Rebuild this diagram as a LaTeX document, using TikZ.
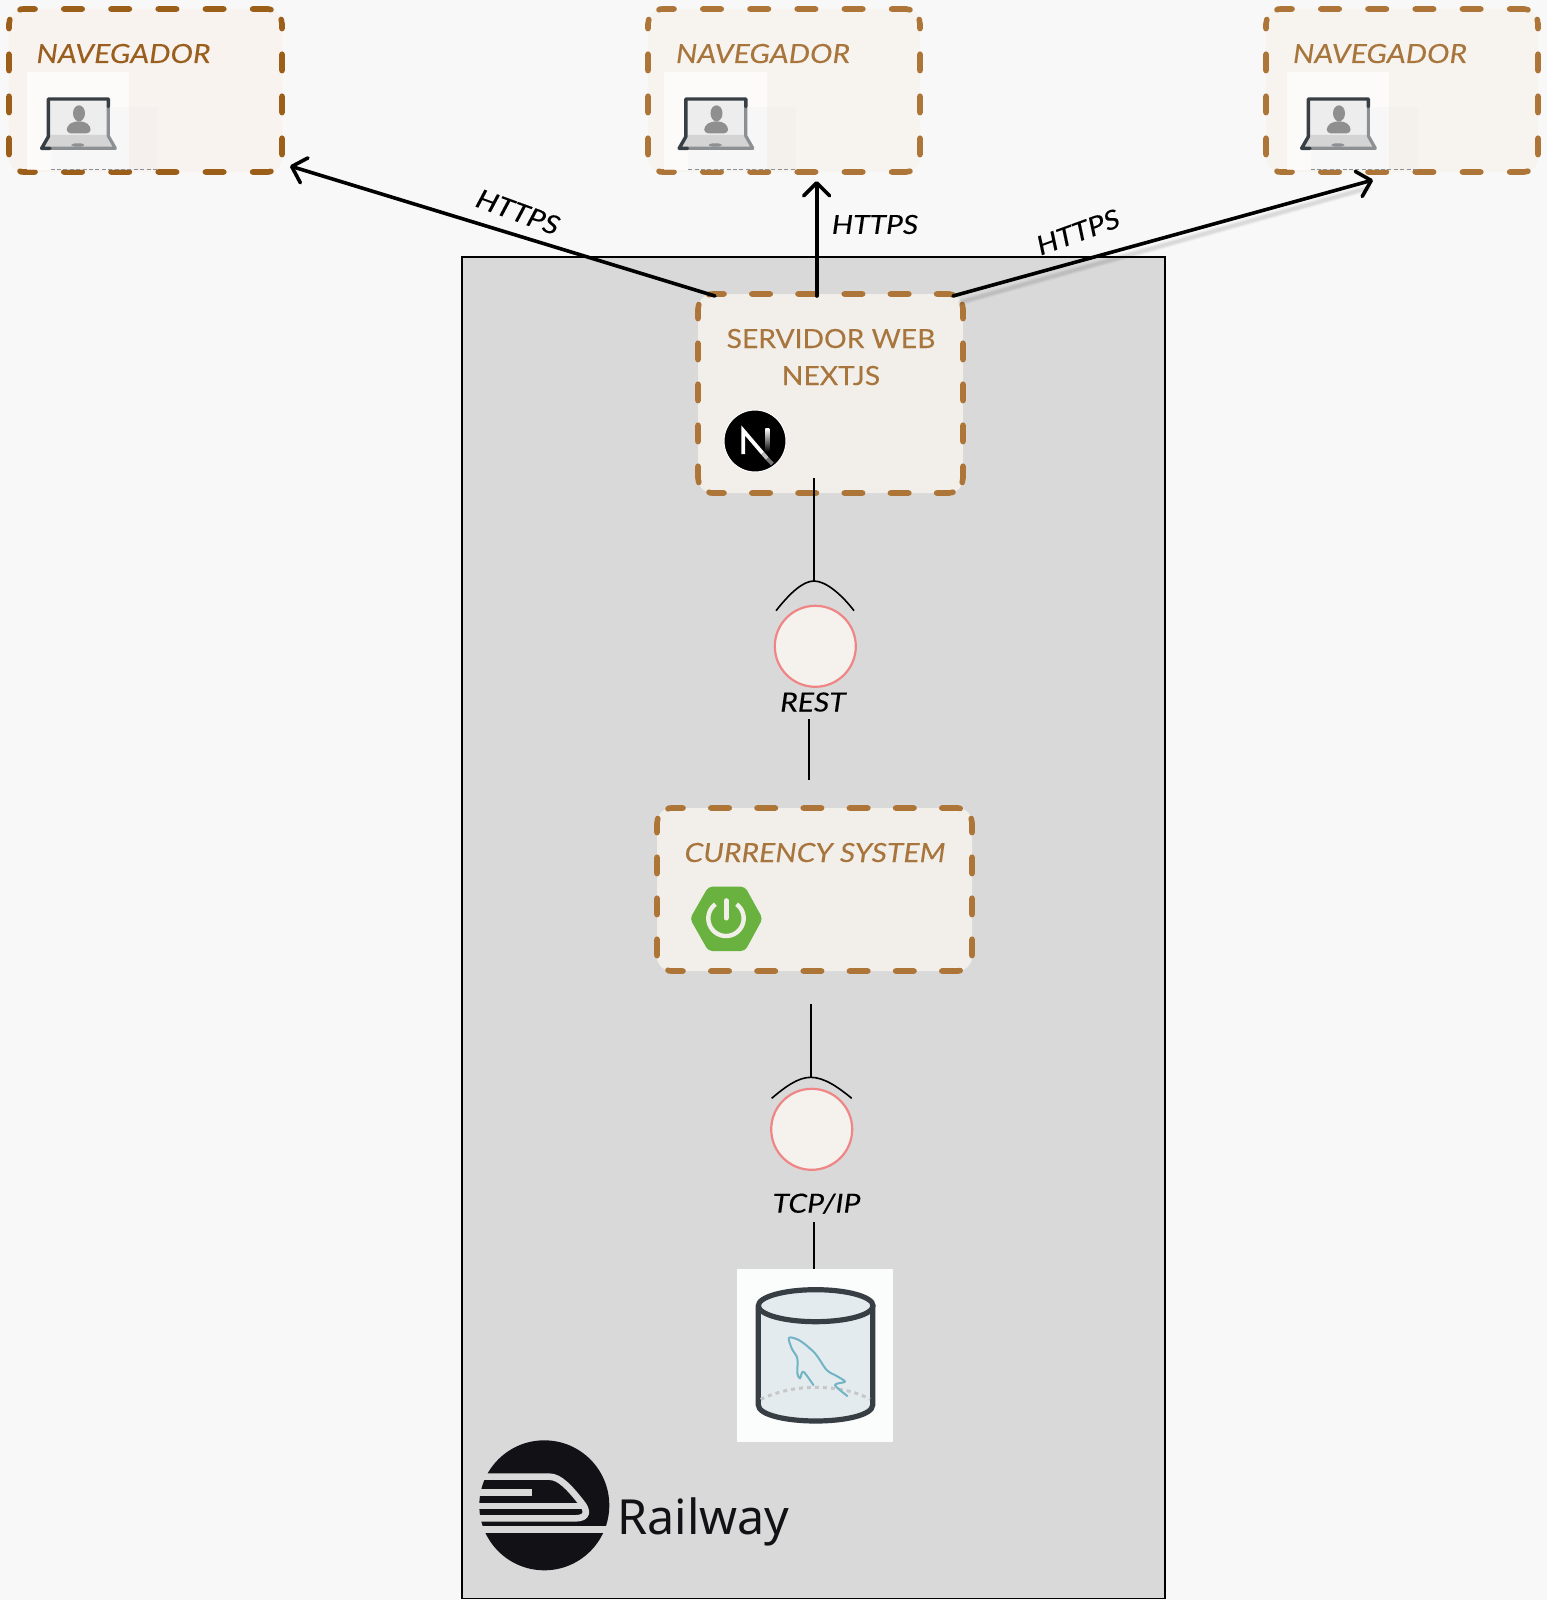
\documentclass[tikz,border=0pt]{standalone}
\usepackage{fontspec}
\setmainfont[FakeStretch=1.07,FakeBold=0.12,ItalicFeatures={FakeStretch=1.14,FakeBold=0.12}]{Lato}
\newfontfamily\railfont{Noto Sans}
\usetikzlibrary{calc,arrows.meta,shapes.geometric}
\definecolor{pagebg}{HTML}{F8F8F8}
\definecolor{panelgrey}{HTML}{D9D9D9}
\definecolor{frameA}{HTML}{9C5F1A}
\definecolor{frameB}{HTML}{AD7537}
\definecolor{textA}{HTML}{9A5F1E}
\definecolor{textB}{HTML}{A8753C}
\definecolor{fillA}{HTML}{F8F3EF}
\definecolor{fillB}{HTML}{F7F4F0}
\definecolor{fillC}{HTML}{F2EFEB}
\definecolor{circfill}{HTML}{F5F2EE}
\definecolor{circline}{HTML}{F08585}
\definecolor{darkline}{HTML}{373F45}
\definecolor{greyline}{HTML}{8D9093}
\definecolor{teal}{HTML}{72B3C4}
\definecolor{logodark}{HTML}{121216}
\definecolor{springgreen}{HTML}{69B23F}
\definecolor{dbfill}{HTML}{E3EBEF}
\definecolor{dbback}{HTML}{FBFCFC}
\tikzset{
  boxfill/.style={rectangle,rounded corners=7pt,inner sep=0pt,outer sep=0pt,draw=none},
  edgeline/.style={line width=2.8pt,line cap=round},
  title/.style={anchor=base,inner sep=0pt,font=\fontsize{13.2pt}{15pt}\selectfont},
  ititle/.style={anchor=base,inner sep=0pt,font=\fontsize{13.2pt}{15pt}\selectfont\itshape},
  ilabel/.style={inner sep=0pt,font=\fontsize{13.2pt}{15pt}\selectfont\itshape,text=black},
  conn/.style={line width=1.8pt,draw=black,line cap=round,-{Straight Barb[length=6.5pt,width=13pt,round]}},
  thin line/.style={line width=0.8pt,draw=black},
  iface/.style={circle,draw=circline,fill=circfill,line width=1.1pt,inner sep=0pt,outer sep=0pt,minimum size=81pt*0.5},
}
% node, colour, horizontal off, vertical phase, vertical off
\newcommand\frameedges[5]{%
  \draw[edgeline,draw=#2,dash pattern=on 9.2pt off #3pt,dash phase=1.6pt]
    ($(#1.north west)+(11,0.8)$) .. controls ($(#1.north west)+(12,0)$) .. ($(#1.north west)+(15,0)$) -- ($(#1.north east)+(-14,0)$) .. controls ($(#1.north east)+(-12,0)$) .. ($(#1.north east)+(-10,0.8)$);
  \draw[edgeline,draw=#2,dash pattern=on 9.2pt off #3pt,dash phase=1.6pt]
    ($(#1.south west)+(11,-0.8)$) .. controls ($(#1.south west)+(12,0)$) .. ($(#1.south west)+(15,0)$) -- ($(#1.south east)+(-14,0)$) .. controls ($(#1.south east)+(-12,0)$) .. ($(#1.south east)+(-10,-0.8)$);
  \draw[edgeline,draw=#2,dash pattern=on 8.2pt off #5pt,dash phase=#4pt]
    ($(#1.north west)+(0.8,10.5)$) .. controls ($(#1.north west)+(0,12)$) .. ($(#1.north west)+(0,15)$) -- ($(#1.south west)+(0,-15)$) .. controls ($(#1.south west)+(0,-12)$) .. ($(#1.south west)+(0.8,-10.5)$);
  \draw[edgeline,draw=#2,dash pattern=on 8.2pt off #5pt,dash phase=#4pt]
    ($(#1.north east)+(-0.8,10.5)$) .. controls ($(#1.north east)+(0,12)$) .. ($(#1.north east)+(0,15)$) -- ($(#1.south east)+(0,-15)$) .. controls ($(#1.south east)+(0,-12)$) .. ($(#1.south east)+(-0.8,-10.5)$);
}
\newcommand\laptopicon[1]{%
  \begin{scope}[shift={(#1,0)},scale=1/3]
    \fill[white,opacity=.7] (80,215) rectangle (388,510);
    \fill[gray!30,opacity=.09] (152,320) rectangle (475,510);
    \fill[black!7] (145,297) rectangle (325,410);
    \fill[black!17] (150,405) -- (320,405) -- (348,445) -- (125,445) -- cycle;
    \draw[greyline,line width=1.6pt,line join=round] (325,320) -- (325,408) -- (346,445) -- (150,445);
    \draw[darkline,line width=1.7pt,line join=round,line cap=round] (325,320) -- (325,297) -- (145,297) -- (145,410) -- (125,445) -- (150,445);
    \fill[greyline,rounded corners=1.5pt] (215,440) rectangle (252,430);
    \fill[black!44] (237,340) ellipse [x radius=18,y radius=24];
    \fill[black!44,rounded corners=2pt] (200,400) -- (200,378) -- (222,364) -- (252,364) -- (272,378) -- (272,400) -- cycle;
    \draw[greyline,line width=0.5pt,dash pattern=on 2pt off 1.2pt] (152,510) -- (475,510);
  \end{scope}%
}
\begin{document}
\begin{tikzpicture}[x=0.5pt,y=-0.5pt]
\useasboundingbox (0,0) rectangle (1547,1600);
\fill[pagebg] (0,0) rectangle (1547,1600);

% panel
\node[rectangle,draw=black,line width=0.9pt,fill=panelgrey,inner sep=0pt,minimum width=351.5pt,minimum height=670.75pt] (panel) at (813.5,927.75) {};

% browser boxes
\node[boxfill,fill=fillA,minimum width=136.5pt,minimum height=81.5pt] (nav1) at (145.5,90.5) {};
\node[boxfill,fill=fillB,minimum width=136pt,minimum height=81.5pt] (nav2) at (784,90.5) {};
\node[boxfill,fill=fillB,minimum width=136pt,minimum height=81.5pt] (nav3) at (1402,90.5) {};
\frameedges{nav1}{frameA}{14.4}{3.6}{12.8}
\frameedges{nav2}{frameB}{14.4}{3.6}{12.8}
\frameedges{nav3}{frameB}{14.4}{3.6}{12.8}
\laptopicon{0}
\laptopicon{637.5}
\laptopicon{1260}
\node[ititle,text=textA] (navt1) at (123.5,63) {NAVEGADOR};
\node[ititle,text=textB] (navt2) at (763,63) {NAVEGADOR};
\node[ititle,text=textB] (navt3) at (1380,63) {NAVEGADOR};

% server
\node[boxfill,fill=fillC,minimum width=132.5pt,minimum height=99.5pt] (server) at (830.5,393.5) {};
\frameedges{server}{frameB}{13.9}{1.1}{12.3}
\node[title,text=textB] (servt1) at (831,348) {SERVIDOR WEB};
\node[title,text=textB] (servt2) at (831,385) {NEXTJS};
% next logo
\node[circle,fill=black,draw=white,line width=0.5pt,inner sep=0pt,minimum size=31pt] (nextlogo) at (755,441) {};
\begin{scope}[shift={(680,280)},scale=1/3]
  \draw[white,line width=1.9pt] (190,522) -- (190,452) -- (248,520);
  \draw[black!25,line width=1.9pt] (248,520) -- (262,536);
  \draw[black!55,line width=1.9pt] (262,536) -- (277,552);
  \shade[top color=white,bottom color=black] (256,445) rectangle (268,515);
\end{scope}

% currency
\node[boxfill,fill=fillC,minimum width=157.5pt,minimum height=81.5pt] (currency) at (814.5,889.5) {};
\frameedges{currency}{frameB}{13.9}{1.1}{12.3}
\node[ititle,text=textB] (currt) at (815,862) {CURRENCY SYSTEM};
% spring logo
\begin{scope}[shift={(640,790)},scale=1/3]
  \fill[springgreen,rounded corners=2pt] (150,386) -- (205,290) -- (315,290) -- (368,386) -- (315,483) -- (205,483) -- cycle;
  \draw[fillC,line width=2.2pt] plot[domain=307:593,samples=50,smooth] ({258+53*cos(\x)},{385+53*sin(\x)});
  \draw[fillC,line width=2.5pt,line cap=round] (258,332) -- (258,384);
\end{scope}

% interfaces
\node[iface] (rest) at (815.3,646.3) {};
\node[ilabel,anchor=base] (restt) at (813,711.5) {REST};
\coordinate (sockA) at (814,581);
\coordinate (sockAl) at (776,610.7);
\coordinate (sockAr) at (854,610.7);
\coordinate (srvIn) at (814,478);
\draw[thin line] (srvIn) -- (sockA);
\draw[thin line] (sockAl) .. controls (790,593) and (803,581) .. (sockA) .. controls (826,581) and (842,595) .. (sockAr);
\coordinate (restOut) at (809,719.3);
\coordinate (curTop) at (809,780);
\draw[thin line] (restOut) -- (curTop);

\node[iface] (tcp) at (811.7,1129.3) {};
\node[ilabel,anchor=base] (tcpt) at (816.5,1212.7) {TCP/IP};
\coordinate (sockB) at (810.7,1077.3);
\coordinate (sockBl) at (771.7,1098.3);
\coordinate (sockBr) at (851.7,1098.3);
\coordinate (curOut) at (810.7,1004);
\draw[thin line] (curOut) -- (sockB);
\draw[thin line] (sockBl) .. controls (785,1087) and (798,1077.3) .. (sockB) .. controls (824,1077.3) and (838,1087) .. (sockBr);

% database
\node[rectangle,fill=dbback,inner sep=0pt,minimum width=78pt,minimum height=86.2pt] (db) at (815.3,1355.5) {};
\coordinate (tcpOut) at (814,1222.3);
\draw[thin line] (tcpOut) -- (db.north -| tcpOut);
\begin{scope}[shift={(720,1250)},scale=1/3]
  \draw[darkline,fill=dbfill,line width=2.6pt] (115,170) -- (115,465) .. controls (115,495) and (200,513) .. (287,513) .. controls (375,513) and (458,495) .. (458,465) -- (458,170);
  \draw[darkline,line width=2.6pt,fill=dbfill] (287,167) ellipse [x radius=172,y radius=48];
  \draw[black!22,line width=1.5pt,dash pattern=on 2pt off 2pt] (122,448) .. controls (180,420) and (240,412) .. (285,412) .. controls (340,412) and (400,420) .. (450,448);
  \draw[teal,line width=1pt,line join=round,line cap=round] plot[smooth,tension=.5] coordinates {(382,438) (345,405) (375,395) (350,378) (320,360) (285,310) (240,272) (207,263) (215,295) (232,325) (232,370) (240,385) (250,365) (280,405)};
\end{scope}

% railway
\node[circle,fill=logodark,inner sep=0pt,minimum size=65pt] (raillogo) at (544.3,1505.3) {};
\begin{scope}[shift={(460,1420)},scale=1/3]
  \draw[panelgrey,line width=3.3pt,line join=round] (40,170) -- (268,170) .. controls (300,170) and (330,205) .. (362,245) .. controls (385,272) and (385,295) .. (345,295) -- (40,295);
  \draw[panelgrey,line width=3.3pt] (40,218) -- (215,218);
  \draw[panelgrey,line width=3.3pt] (40,258) -- (366,258);
  \draw[panelgrey,line width=3.3pt] (40,328) -- (462,328);
\end{scope}
\node[anchor=base west,inner sep=0pt,font=\railfont\fontsize{24.2pt}{28pt}\selectfont,text=logodark] (railt) at (617,1534) {Railway};

% https connectors
\coordinate (sA) at (715,296);
\coordinate (tA) at (290,166);
\coordinate (sB) at (816.7,296);
\coordinate (tB) at (816.7,181);
\coordinate (sC) at (953,296);
\coordinate (tC) at (1373,180);
\foreach \w/\o in {7/.03,5/.04,3/.05}{
  \draw[line width=\w*0.5pt,draw=black,opacity=\o,line cap=round] ($(sC)+(8,6)$) -- ($(tC)+(-5,8)$);
}
\draw[conn] (sA) -- (tA);
\draw[conn] (sB) -- (tB);
\draw[conn] (sC) -- (tC);
\node[ilabel,rotate=-20] (h1) at (518,212) {HTTPS};
\node[ilabel] (h2) at (875,224.5) {HTTPS};
\node[ilabel,rotate=20] (h3) at (1078,232) {HTTPS};
\end{tikzpicture}
\end{document}
